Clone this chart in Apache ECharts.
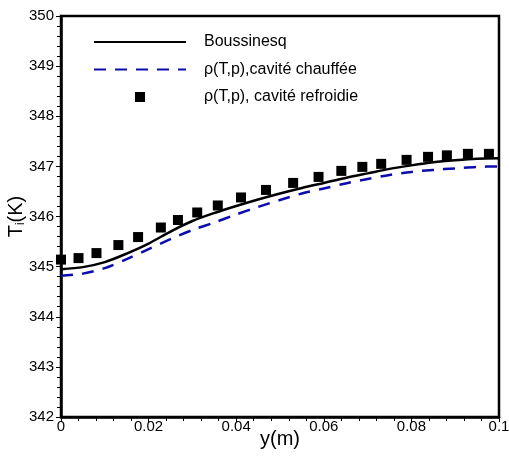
<!DOCTYPE html>
<html>
<head>
<meta charset="utf-8">
<script src="https://cdn.jsdelivr.net/npm/echarts@6/dist/echarts.min.js"></script>
<style>
html,body{margin:0;padding:0;background:#fff;}
#chart{width:509px;height:457px;}
</style>
</head>
<body>
<div id="chart"></div>
<script>
// Data
var lineX = [0, 0.005, 0.01, 0.015, 0.02, 0.025, 0.03, 0.035, 0.04, 0.045, 0.05, 0.055, 0.06, 0.065, 0.07, 0.075, 0.08, 0.085, 0.09, 0.095, 0.1];
var boussinesq = [344.95, 344.99, 345.09, 345.26, 345.46, 345.70, 345.91, 346.07, 346.21, 346.34, 346.46, 346.57, 346.67, 346.77, 346.86, 346.95, 347.02, 347.08, 347.12, 347.15, 347.16];
var chauffee = [344.82, 344.86, 344.97, 345.15, 345.35, 345.55, 345.73, 345.88, 346.04, 346.19, 346.33, 346.46, 346.56, 346.66, 346.75, 346.83, 346.89, 346.93, 346.96, 346.99, 347.00];
var pointX = [0, 0.004, 0.0081, 0.0131, 0.0176, 0.0228, 0.0267, 0.0311, 0.0358, 0.0411, 0.0468, 0.053, 0.0588, 0.064, 0.0688, 0.0731, 0.0789, 0.0838, 0.0881, 0.0929, 0.0977];
var refroidie = [345.14, 345.17, 345.27, 345.43, 345.59, 345.78, 345.93, 346.08, 346.22, 346.38, 346.53, 346.67, 346.79, 346.91, 346.99, 347.05, 347.13, 347.19, 347.22, 347.25, 347.25];
var seriesNames = ['Boussinesq', '\u03c1(T,p),cavit\u00e9 chauff\u00e9e', '\u03c1(T,p), cavit\u00e9 refroidie'];
var xTicks = {min: 0, max: 0.1, interval: 0.02};
var yTicks = {min: 342, max: 350, interval: 1};

function pairs(xs, ys) { return xs.map(function (x, i) { return [x, ys[i]]; }); }

var font = '"Liberation Sans", Arial, sans-serif';
var chart = echarts.init(document.getElementById('chart'), null, {renderer: 'canvas'});
chart.setOption({
  animation: false,
  backgroundColor: '#fff',
  grid: {left: 61, right: 10, top: 16, bottom: 40, containLabel: false, outerBoundsMode: 'none',
         show: true, borderColor: '#000', borderWidth: 2.5, backgroundColor: 'transparent'},
  legend: {
    orient: 'vertical', left: 93, top: 34, padding: 0,
    itemWidth: 92, itemHeight: 14, itemGap: 11.5,
    textStyle: {fontFamily: font, fontSize: 16, color: '#000', padding: [0, 0, 0, 13]},
    data: [
      {name: seriesNames[0], itemStyle: {opacity: 0}},
      {name: seriesNames[1], itemStyle: {opacity: 0}},
      {name: seriesNames[2], icon: 'path://M0,0h0.01M41,2h10v10h-10zM92,14h0.01', itemStyle: {opacity: 1}}
    ]
  },
  xAxis: {
    type: 'value', min: xTicks.min, max: xTicks.max, interval: xTicks.interval,
    name: 'y(m)', nameLocation: 'middle', nameGap: 12, nameMoveOverlap: false,
    nameTextStyle: {fontFamily: font, fontSize: 20, color: '#000'},
    axisLine: {show: true, onZero: false, lineStyle: {color: '#000', width: 2.5}},
    axisTick: {show: true, inside: false, length: 5, lineStyle: {color: '#000', width: 1}},
    minorTick: {show: true, splitNumber: 5, length: 4, lineStyle: {color: '#000', width: 1}},
    axisLabel: {fontFamily: font, fontSize: 15, color: '#000', margin: 2,
      formatter: function (v) { return String(+v.toFixed(3)); }},
    splitLine: {show: false}
  },
  yAxis: {
    type: 'value', min: yTicks.min, max: yTicks.max, interval: yTicks.interval,
    name: '{a|T}{b|i}{a|(K)}', nameLocation: 'middle', nameGap: 34, nameRotate: 90, nameMoveOverlap: false,
    nameTextStyle: {fontFamily: font, fontSize: 20, color: '#000',
      rich: {a: {fontFamily: font, fontSize: 20, color: '#000'},
             b: {fontFamily: font, fontSize: 12, color: '#000', padding: [10, 0, 0, 0]}}},
    axisLine: {show: true, onZero: false, lineStyle: {color: '#000', width: 2.5}},
    axisTick: {show: true, inside: false, length: 5, lineStyle: {color: '#000', width: 1}},
    minorTick: {show: true, splitNumber: 5, length: 4, lineStyle: {color: '#000', width: 1}},
    axisLabel: {fontFamily: font, fontSize: 15, color: '#000', margin: 7},
    splitLine: {show: false}
  },
  series: [
    {name: seriesNames[0], type: 'line', data: pairs(lineX, boussinesq), smooth: 0.3,
     symbol: 'none', lineStyle: {color: '#000', width: 2.5}, itemStyle: {color: '#000'}, z: 3},
    {name: seriesNames[1], type: 'line', data: pairs(lineX, chauffee), smooth: 0.3,
     symbol: 'none', lineStyle: {color: '#0c0cae', width: 2.5, type: [12, 9]}, itemStyle: {color: '#0c0cae'}, z: 3},
    {name: seriesNames[2], type: 'scatter', data: pairs(pointX, refroidie),
     symbol: 'rect', symbolSize: 10, itemStyle: {color: '#000', opacity: 1}, clip: false, z: 4}
  ]
});
</script>
</body>
</html>
